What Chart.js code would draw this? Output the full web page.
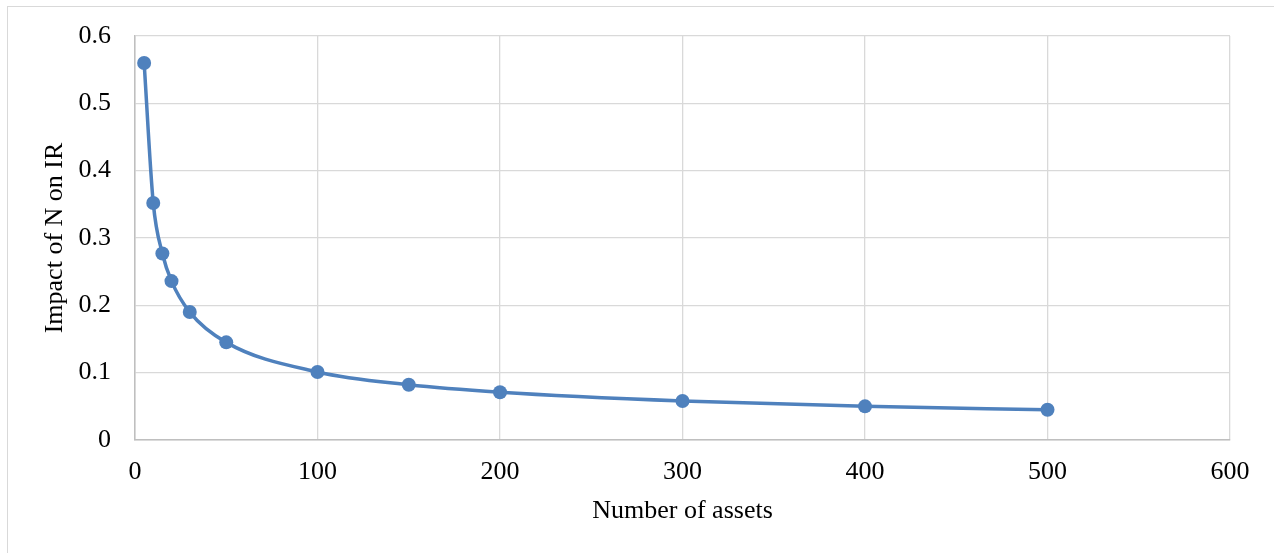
<!DOCTYPE html>
<html>
<head>
<meta charset="utf-8">
<script src="https://cdn.jsdelivr.net/npm/chart.js@4"></script>
<style>
  html, body { margin: 0; padding: 0; background: #ffffff; overflow: hidden; }
  #wrap { position: relative; width: 1274px; height: 553px; }
  #frame { position: absolute; left: 7px; top: 6px; width: 1300px; height: 600px;
           border: 1px solid #d9d9d9; box-sizing: border-box; pointer-events: none; }
  canvas { position: absolute; left: 0; top: 0; }
</style>
</head>
<body>
<div id="wrap">
  <div id="frame"></div>
  <canvas id="c" width="1274" height="553"></canvas>
</div>
<script>
// Number of assets in the portfolio
const assets = [5, 10, 15, 20, 30, 50, 100, 150, 200, 300, 400, 500];
// Impact of N on the information ratio
const impact = [0.56, 0.352, 0.277, 0.236, 0.19, 0.145, 0.101, 0.082, 0.071, 0.058, 0.05, 0.045];

const xTitle = 'Number of assets';
const yTitle = 'Impact of N on IR';

const serif = '"Liberation Serif", "Times New Roman", serif';
const blue = '#4f81bd';

new Chart(document.getElementById('c'), {
  type: 'scatter',
  data: {
    datasets: [{
      data: assets.map((x, i) => ({ x: x, y: impact[i] })),
      showLine: true,
      borderColor: blue,
      backgroundColor: blue,
      borderWidth: 3.5,
      pointRadius: 7,
      pointHoverRadius: 7,
      pointBorderWidth: 0,
      cubicInterpolationMode: 'monotone'
    }]
  },
  options: {
    responsive: false,
    animation: false,
    events: [],
    layout: { padding: { left: 40, right: 44, top: 36, bottom: 0 } },
    plugins: { legend: { display: false }, tooltip: { enabled: false } },
    scales: {
      x: {
        type: 'linear',
        min: 0, max: 600,
        ticks: { stepSize: 100, color: '#000', font: { family: serif, size: 26 }, padding: 17 },
        grid: { color: '#d9d9d9', lineWidth: 1.3, drawTicks: false },
        border: { color: '#bfbfbf', width: 1.5 },
        title: { display: true, text: xTitle, color: '#000', font: { family: serif, size: 26 }, padding: { top: 4, bottom: 26 } },
        afterFit: (s) => { s.height = 113; s.paddingLeft = 0; s.paddingRight = 0; }
      },
      y: {
        min: 0, max: 0.6,
        ticks: { stepSize: 0.1, color: '#000', font: { family: serif, size: 26 }, padding: 24,
                 callback: (v) => (Math.round(v * 10) / 10).toString() },
        grid: { color: '#d9d9d9', lineWidth: 1.3, drawTicks: false },
        border: { color: '#bfbfbf', width: 1.5 },
        title: { display: true, text: yTitle, color: '#000', font: { family: serif, size: 26 }, padding: { top: 0, bottom: 0 } },
        afterFit: (s) => { s.width = 95; s.paddingTop = 0; s.paddingBottom = 0; }
      }
    }
  }
});
</script>
</body>
</html>
